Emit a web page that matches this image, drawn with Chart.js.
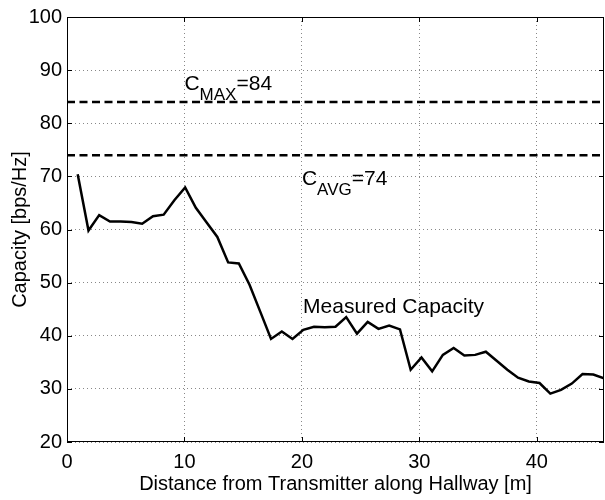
<!DOCTYPE html>
<html>
<head>
<meta charset="utf-8">
<script src="https://cdn.jsdelivr.net/npm/chart.js@4/dist/chart.umd.min.js"></script>
<style>
  body { margin: 0; background: #fff; }
  #wrap { width: 605px; height: 500px; position: relative; }
</style>
</head>
<body>
<div id="wrap"><canvas id="myChart"></canvas></div>
<script>
// distance along hallway [m] (one sample every ~0.91 m)
const distances = [0.91, 1.83, 2.74, 3.66, 4.57, 5.49, 6.40, 7.32, 8.23, 9.14,
  10.06, 10.97, 11.89, 12.80, 13.72, 14.63, 15.54, 16.46, 17.37, 18.29,
  19.20, 20.12, 21.03, 21.95, 22.86, 23.77, 24.69, 25.60, 26.52, 27.43,
  28.35, 29.26, 30.18, 31.09, 32.00, 32.92, 33.83, 34.75, 35.66, 36.58,
  37.49, 38.40, 39.32, 40.23, 41.15, 42.06, 42.98, 43.89, 44.81, 45.72];
// measured capacity [bps/Hz]
const capacity = [70.4, 59.8, 62.7, 61.5, 61.5, 61.4, 61.1, 62.5, 62.8, 65.5,
  67.9, 64.1, 61.3, 58.6, 53.8, 53.6, 49.6, 44.5, 39.4, 40.8,
  39.4, 41.1, 41.7, 41.6, 41.7, 43.5, 40.4, 42.6, 41.3, 41.9,
  41.2, 33.6, 35.9, 33.3, 36.4, 37.7, 36.3, 36.4, 37.0, 35.3,
  33.6, 32.1, 31.4, 31.1, 29.1, 29.8, 31.0, 32.8, 32.7, 32.0];
const cMax = 84;
const cAvg = 74;
const xRange = [0, 45.72];
const yRange = [20, 100];

const FONT = '"Liberation Sans", Arial, Helvetica, sans-serif';

// kader + tickjes naar binnen (zoals in matlab)
const framePlugin = {
  id: 'frame',
  afterDraw(chart) {
    const { ctx, chartArea: a, scales } = chart;
    ctx.save();
    ctx.strokeStyle = '#000';
    ctx.lineWidth = 1;
    ctx.setLineDash([]);
    ctx.strokeRect(a.left + 0.5, a.top + 0.5, a.right - a.left - 1, a.bottom - a.top - 1);
    const len = 5;
    ctx.beginPath();
    scales.x.ticks.forEach(t => {
      const px = Math.round(scales.x.getPixelForValue(t.value)) + 0.5;
      ctx.moveTo(px, a.bottom); ctx.lineTo(px, a.bottom - len);
      ctx.moveTo(px, a.top); ctx.lineTo(px, a.top + len);
    });
    scales.y.ticks.forEach(t => {
      const py = Math.round(scales.y.getPixelForValue(t.value)) + 0.5;
      ctx.moveTo(a.left, py); ctx.lineTo(a.left + len, py);
      ctx.moveTo(a.right, py); ctx.lineTo(a.right - len, py);
    });
    ctx.stroke();
    ctx.restore();
  }
};

// labels met subscript
const labelPlugin = {
  id: 'labels',
  afterDatasetsDraw(chart) {
    const { ctx, scales } = chart;
    const xs = scales.x, ys = scales.y;
    ctx.save();
    ctx.fillStyle = '#000';
    ctx.textBaseline = 'alphabetic';
    ctx.textAlign = 'left';
    const sub = (x, y, main, subTxt, rest) => {
      let px = xs.getPixelForValue(x);
      const py = ys.getPixelForValue(y);
      ctx.font = '21px ' + FONT;
      ctx.fillText(main, px, py);
      px += ctx.measureText(main).width;
      ctx.font = '17px ' + FONT;
      ctx.fillText(subTxt, px, py + 10);
      px += ctx.measureText(subTxt).width;
      ctx.font = '21px ' + FONT;
      ctx.fillText(rest, px, py);
    };
    sub(10, 86.2, 'C', 'MAX', '=' + cMax);
    sub(20, 68.3, 'C', 'AVG', '=' + cAvg);
    ctx.font = '21px ' + FONT;
    ctx.fillText('Measured Capacity', xs.getPixelForValue(20.1), ys.getPixelForValue(44.3));
    ctx.restore();
  }
};

const ctx = document.getElementById('myChart').getContext('2d');
new Chart(ctx, {
  type: 'line',
  data: {
    datasets: [
      {
        label: 'Measured Capacity',
        data: distances.map((d, i) => ({ x: d, y: capacity[i] })),
        borderColor: '#000',
        borderWidth: 2.5,
        pointRadius: 0,
        tension: 0
      },
      {
        label: 'C_MAX',
        data: [{ x: xRange[0], y: cMax }, { x: xRange[1], y: cMax }],
        borderColor: '#000',
        borderWidth: 2.5,
        borderDash: [8, 4.5],
        pointRadius: 0
      },
      {
        label: 'C_AVG',
        data: [{ x: xRange[0], y: cAvg }, { x: xRange[1], y: cAvg }],
        borderColor: '#000',
        borderWidth: 2.5,
        borderDash: [8, 4.5],
        pointRadius: 0
      }
    ]
  },
  options: {
    responsive: true,
    maintainAspectRatio: false,
    animation: false,
    layout: { padding: { left: 0, right: 1, top: 16, bottom: 0 } },
    plugins: {
      legend: { display: false },
      tooltip: { enabled: false }
    },
    scales: {
      x: {
        type: 'linear',
        min: xRange[0],
        max: xRange[1],
        afterFit: s => { s.height = 58; },
        border: { display: false, dash: [1, 3] },
        grid: { color: '#888', lineWidth: 1, drawTicks: false },
        ticks: {
          stepSize: 10,
          includeBounds: false,
          padding: 8,
          color: '#000',
          font: { family: FONT, size: 20 }
        },
        title: {
          display: true,
          text: 'Distance from Transmitter along Hallway [m]',
          color: '#000',
          font: { family: FONT, size: 20 },
          padding: { top: 0, bottom: 4 }
        }
      },
      y: {
        min: yRange[0],
        max: yRange[1],
        afterFit: s => { s.width = 67; },
        border: { display: false, dash: [1, 3] },
        grid: { color: '#888', lineWidth: 1, drawTicks: false },
        ticks: {
          stepSize: 10,
          padding: 5,
          color: '#000',
          font: { family: FONT, size: 20 }
        },
        title: {
          display: true,
          text: 'Capacity [bps/Hz]',
          color: '#000',
          font: { family: FONT, size: 20 },
          padding: { top: 8, bottom: 0 }
        }
      }
    }
  },
  plugins: [framePlugin, labelPlugin]
});
</script>
</body>
</html>
